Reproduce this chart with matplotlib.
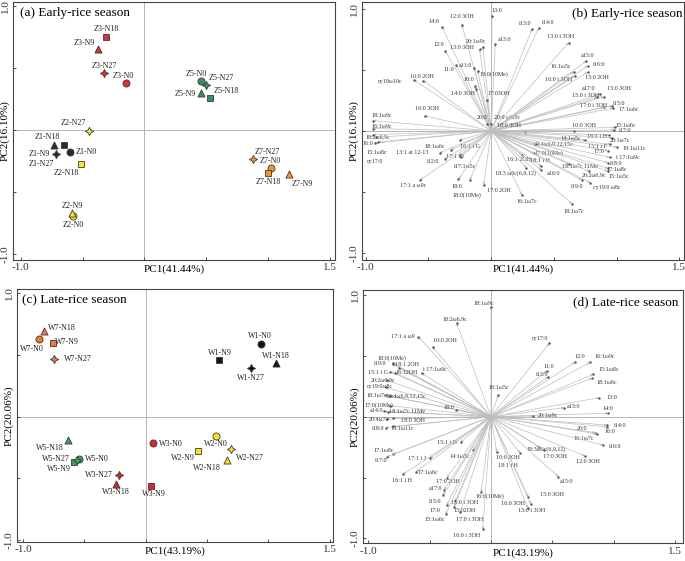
import matplotlib
matplotlib.use('Agg')
import matplotlib.pyplot as plt

plt.rcParams['font.family'] = ['Liberation Serif', 'DejaVu Serif']

# ---------------- (a) early-rice scores ----------------
a_names = ['Z1-N0', 'Z1-N9', 'Z1-N18', 'Z1-N27',
           'Z2-N0', 'Z2-N9', 'Z2-N18', 'Z2-N27',
           'Z3-N0', 'Z3-N9', 'Z3-N18', 'Z3-N27',
           'Z5-N0', 'Z5-N9', 'Z5-N18', 'Z5-N27',
           'Z7-N0', 'Z7-N9', 'Z7-N18', 'Z7-N27']
a_x = [-0.598, -0.733, -0.650, -0.712,
       -0.580, -0.588, -0.509, -0.450,
       -0.151, -0.377, -0.313, -0.323,
       0.458, 0.461, 0.531, 0.496,
       1.022, 1.170, 1.000, 0.876]
a_y = [-0.180, -0.118, -0.118, -0.196,
       -0.694, -0.672, -0.274, -0.005,
       0.379, 0.651, 0.753, 0.462,
       0.395, 0.296, 0.258, 0.363,
       -0.309, -0.355, -0.344, -0.234]
a_lx = [-0.469, -0.846, -0.782, -0.836,
        -0.577, -0.585, -0.631, -0.571,
        -0.167, -0.485, -0.307, -0.323,
        0.420, 0.334, 0.658, 0.620,
        1.019, 1.275, 1.005, 0.992]
a_ly = [-0.180, -0.196, -0.059, -0.272,
        -0.766, -0.610, -0.349, 0.054,
        0.435, 0.699, 0.812, 0.519,
        0.452, 0.288, 0.315, 0.417,
        -0.253, -0.435, -0.419, -0.177]

# ---------------- (c) late-rice scores ----------------
c_names = ['W1-N0', 'W1-N9', 'W1-N18', 'W1-N27',
           'W2-N0', 'W2-N9', 'W2-N18', 'W2-N27',
           'W3-N0', 'W3-N9', 'W3-N18', 'W3-N27',
           'W5-N0', 'W5-N9', 'W5-N18', 'W5-N27',
           'W7-N0', 'W7-N9', 'W7-N18', 'W7-N27']
c_x = [0.943, 0.601, 1.063, 0.856,
       0.571, 0.429, 0.666, 0.696,
       0.057, 0.043, -0.245, -0.217,
       -0.541, -0.584, -0.636, -0.563,
       -0.870, -0.758, -0.829, -0.745]
c_y = [0.586, 0.457, 0.435, 0.392,
       -0.159, -0.276, -0.349, -0.262,
       -0.216, -0.562, -0.543, -0.473,
       -0.346, -0.365, -0.189, -0.354,
       0.630, 0.595, 0.695, 0.468]
c_lx = [0.932, 0.606, 1.063, 0.856,
        0.573, 0.302, 0.497, 0.851,
        0.204, 0.071, -0.242, -0.378,
        -0.394, -0.704, -0.780, -0.731,
        -0.929, -0.644, -0.685, -0.549]
c_ly = [0.654, 0.514, 0.495, 0.311,
        -0.219, -0.338, -0.419, -0.332,
        -0.219, -0.630, -0.608, -0.473,
        -0.346, -0.427, -0.257, -0.346,
        0.549, 0.608, 0.716, 0.468]

# ---------------- (b) early-rice loadings ----------------
b_names = ['13:0', '12:0 3OH', '14:0', 'i13:0', 'i14:0', '13:0 i 3OH', '20:1ω9c', 'a13:0',
           '13:0 3OH', '12:0', '11:0', 'a11:0', '19:0(10Me)', '10:0 2OH', 'cy19ω10c', '10:0',
           '14:0 3OH', '17:03OH', '16:0 3OH', '18:1ω9c', '16:1ω9c', '20:0', '20:0 ω6,9c',
           '16:1ω5c', '16:0 i 3OH', 'a15:0', 'i16:0', '15:0 2OH', 'a17:0', '15:0 3OH',
           '15:0 i 3OH', '17:0 i 3OH', 'i15:0', '17:1ω6c', '18:0 3OH', '10:0 3OH', '15:1ω6c',
           'i17:0', '14:1ω5c', '16:1 i H', '20:1ω7c', '20:4ω6,9,12,15c', '15:1 i F', '19:1ω11c',
           '17:0', '17:0(10Me)', 'i 17:1ω9c', '16:1 2OH', '18:1 i H', '18:3 ω6c(6,9,12)', 'a16:0',
           '18:1ω7c 11Me', 'i18:0', '17:1ω8c', '20:2ω6,9c', '15:1ω5c', 'i19:0', 'cy19:0 ω8c',
           '16:1ω7c', '18:1ω7c', '18:2ω6,9c', '16:0', '15:1ω8c', 'cy17:0', '18:1ω6c',
           '16:1 i G', '13:1 at 12-13', '17:1 i J', 'i12:0', 'i17:1ω5c', '17:1 a ω9c', '18:0',
           '18:0(10Me)', '17:0 2OH']
b_x = [0.006, -0.234, -0.393, 0.325, 0.378, 0.617, -0.066, 0.032,
       -0.093, -0.367, -0.279, -0.136, -0.109, -0.540, -0.615, -0.133,
       -0.120, -0.034, -0.527, -0.940, -0.940, -0.030, 0.000,
       0.657, 0.665, 0.758, 0.769, 0.769, 0.870, 0.896,
       0.843, 0.896, 0.963, 0.971, 0.271, 0.657, 0.990,
       0.982, 0.750, 0.936, 0.963, 0.360, 0.950, 1.003,
       0.928, 0.338, 0.944, 0.245, 0.400, 0.280, 0.400,
       0.620, 0.930, 0.928, 0.780, 0.930, 0.720, 0.790,
       0.245, 0.644, -0.940, -0.930, -0.900, -0.920, -0.320,
       -0.250, -0.410, -0.250, -0.370, -0.240, -0.567, -0.261,
       -0.170, -0.061]
b_y = [0.943, 0.869, 0.855, 0.834, 0.842, 0.724, 0.691, 0.711,
       0.672, 0.658, 0.541, 0.514, 0.492, 0.412, 0.418, 0.369,
       0.344, 0.254, 0.123, 0.085, 0.020, 0.060, 0.060,
       0.486, 0.451, 0.574, 0.533, 0.481, 0.303, 0.281,
       0.276, 0.194, 0.205, 0.186, -0.005, 0.000, 0.030,
       0.008, -0.074, -0.033, -0.055, -0.110, -0.109, -0.134,
       -0.161, -0.183, -0.216, -0.197, -0.290, -0.300, -0.320,
       -0.270, -0.260, -0.306, -0.330, -0.330, -0.400, -0.424,
       -0.525, -0.598, -0.030, -0.100, -0.090, -0.050, -0.155,
       -0.074, -0.178, -0.200, -0.230, -0.210, -0.402, -0.396,
       -0.400, -0.443]
b_lx = [0.045, -0.234, -0.460, 0.271, 0.457, 0.551, -0.120, 0.104,
        -0.235, -0.421, -0.341, -0.208, 0.018, -0.553, -0.806, -0.181,
        -0.226, 0.058, -0.513, -0.872, -0.872, -0.074, 0.130,
        0.551, 0.537, 0.764, 0.857, 0.843, 0.777, 1.016,
        0.750, 0.817, 1.016, 1.096, 0.138, 0.737, 1.069,
        1.069, 0.630, 0.843, 1.030, 0.497, 0.843, 1.136,
        0.857, 0.457, 1.088, 0.218, 0.391, 0.192, 0.497,
        0.710, 0.998, 1.003, 0.817, 1.016, 0.684, 0.923,
        0.285, 0.657, -0.907, -0.985, -0.912, -0.926, -0.447,
        -0.168, -0.633, -0.287, -0.460, -0.208, -0.620, -0.274,
        -0.194, 0.064]
b_ly = [0.990, 0.937, 0.896, 0.883, 0.888, 0.773, 0.735, 0.752,
        0.683, 0.705, 0.500, 0.533, 0.467, 0.445, 0.404, 0.418,
        0.309, 0.309, 0.186, 0.131, 0.035, 0.112, 0.112,
        0.527, 0.418, 0.615, 0.547, 0.440, 0.350, 0.350,
        0.287, 0.205, 0.227, 0.178, 0.041, 0.041, 0.049,
        0.000, -0.060, -0.041, -0.074, -0.107, -0.123, -0.142,
        -0.170, -0.178, -0.219, -0.232, -0.238, -0.347, -0.347,
        -0.293, -0.265, -0.314, -0.361, -0.374, -0.451, -0.462,
        -0.580, -0.661, -0.045, -0.105, -0.180, -0.250, -0.128,
        -0.128, -0.178, -0.211, -0.252, -0.292, -0.443, -0.451,
        -0.525, -0.484]

# ---------------- (d) late-rice loadings ----------------
d_names = ['18:1ω9c', '18:2ω6,9c', '17:1 a ω9', '10:0 2OH', 'cy17:0', '18:0(10Me)', 'i19:0',
           '18:1 2OH', '15:1 i G', '16:12OH', 'i 17:1ω9c', '20:2ω6,9c', 'cy19:0ω8c', '18:1ω7c',
           '20:4ω6,9,12,15c', '17:0(10Me)', 'a14:0', '18:1ω7c 11Me', '18:0', '20:4ω7c',
           '18:0 3OH', 'i18:0', '19:1ω11c', '16:1ω5c', '12:0', '16:1ω9c', '11:0', 'i13:0',
           '15:1ω8c', '18:1ω6c', '13:0', 'a13:0', '14:0', '20:1ω9c', '20:0', 'i14:0', '16:0',
           '16:1ω7c', 'i16:0', '18:3ω6c(6,9,12)', '17:0 3OH', '12:0 3OH', '10:0 2OH',
           '18:1 i H', '15:1 i H', '14:1ω5c', '17:1ω8c', 'i17:0', '17:1 i J', '17:1ω6c',
           '16:1 i H', '17:0 2OH', 'a17:0', 'i15:0', '15:0 i 3OH', '16:0(10Me)', '17:0',
           '15:02OH', '15:1ω6c', '17:0 i 3OH', '16:0 i 3OH', 'a15:0', '15:0 3OH', '16:0 3OH',
           '13:0 i 3OH']
d_x = [0.000, -0.280, -0.592, -0.475, 0.475, -0.800, -0.800,
       -0.750, -0.820, -0.780, -0.565, -0.850, -0.860, -0.860,
       -0.820, -0.823, -0.870, -0.840, -0.285, -0.850,
       -0.800, -0.860, -0.800, 0.060, 0.685, 0.807, 0.454, 0.467,
       0.834, 0.820, 0.883, 0.595, 0.956, 0.340, 0.848, 0.943, 0.943,
       0.860, 0.915, 0.394, 0.430, 0.766, 0.046,
       0.236, -0.247, -0.144, -0.796, -0.850, -0.497, -0.611,
       -0.714, -0.360, -0.383, -0.389, -0.290, -0.080, -0.361,
       -0.300, -0.370, -0.250, -0.068, 0.549, 0.304, 0.324,
       0.300]
d_y = [0.900, 0.767, 0.657, 0.575, 0.603, 0.440, 0.430,
       0.400, 0.370, 0.360, 0.357, 0.300, 0.240, 0.175,
       0.170, 0.090, 0.045, 0.040, 0.055, -0.020,
       -0.010, -0.090, -0.080, 0.178, 0.447, 0.447, 0.376, 0.329,
       0.348, 0.315, 0.156, 0.074, 0.028, 0.006, -0.131, -0.068, -0.082,
       -0.140, -0.233, -0.251, -0.270, -0.323, -0.288,
       -0.296, -0.210, -0.274, -0.307, -0.330, -0.342, -0.452,
       -0.471, -0.500, -0.602, -0.643, -0.690, -0.620, -0.726,
       -0.740, -0.800, -0.780, -0.925, -0.493, -0.657, -0.717,
       -0.750]
d_lx = [-0.063, -0.293, -0.715, -0.375, 0.399, -0.810, -0.905,
        -0.687, -0.918, -0.687, -0.456, -0.878, -0.905, -0.932,
        -0.687, -0.918, -0.932, -0.687, -0.348, -0.918,
        -0.633, -0.918, -0.728, 0.060, 0.720, 0.929, 0.467, 0.413,
        0.956, 0.943, 0.984, 0.671, 0.956, 0.467, 0.744, 1.051, 0.970,
        0.752, 1.011, 0.448, 0.522, 0.793, 0.141,
        0.141, -0.361, -0.253, -0.878, -0.899, -0.606, -0.519,
        -0.728, -0.348, -0.456, -0.456, -0.212, -0.008, -0.456,
        -0.212, -0.456, -0.171, -0.198, 0.617, 0.495, 0.182,
        0.332]
d_ly = [0.932, 0.808, 0.657, 0.630, 0.644, 0.480, 0.439,
        0.430, 0.362, 0.362, 0.384, 0.302, 0.247, 0.178,
        0.170, 0.096, 0.049, 0.041, 0.077, -0.021,
        -0.033, -0.095, -0.095, 0.242, 0.493, 0.493, 0.411, 0.343,
        0.384, 0.283, 0.156, 0.082, 0.065, 0.006, -0.096, -0.076, -0.123,
        -0.178, -0.246, -0.268, -0.329, -0.370, -0.334,
        -0.397, -0.214, -0.329, -0.279, -0.362, -0.342, -0.460,
        -0.520, -0.534, -0.589, -0.698, -0.707, -0.652, -0.767,
        -0.772, -0.843, -0.843, -0.980, -0.534, -0.643, -0.717,
        -0.772]

a_colors = {'Z1': '#2b2b2b', 'Z2': '#f2e62e', 'Z3': '#dc2f2f', 'Z5': '#3f8c5e', 'Z7': '#f2952c'}
c_colors = {'W1': '#151515', 'W2': '#f4e424', 'W3': '#d8262b', 'W5': '#3aa258', 'W7': '#ec7a30'}
star = (4, 1, 0)
a_markers = {'N0': 'o', 'N9': '^', 'N18': 's', 'N27': star}
c_markers = {'N0': 'o', 'N9': 's', 'N18': '^', 'N27': star}
sizes = {'o': 26, 's': 24, '^': 26, star: 34}

W, H = 685, 561
fig = plt.figure(figsize=(W / 100, H / 100), dpi=100)


def make_ax(l, r, t, b, xlim, ylim):
    ax = fig.add_axes([l / W, 1 - b / H, (r - l) / W, (b - t) / H])
    ax.set_xlim(*xlim)
    ax.set_ylim(*ylim)
    ax.axhline(0, color='#b5b5b5', lw=0.7, zorder=0)
    ax.axvline(0, color='#b5b5b5', lw=0.7, zorder=0)
    ax.set_xticks([-1, -0.5, 0, 0.5, 1, 1.5])
    ax.set_xticklabels(['-1.0', '', '', '', '', '1.5'], fontsize=8)
    ax.set_yticks([-1, -0.5, 0, 0.5, 1])
    ax.set_yticklabels(['-1.0', '', '', '', '1.0'], fontsize=8, rotation=90, va='center')
    ax.tick_params(direction='in', length=2.5, width=0.6, pad=2.5, colors='#333333')
    for s in ax.spines.values():
        s.set_linewidth(0.8)
        s.set_color('#444444')
    return ax


def axis_labels(ax, xl, yl):
    ax.annotate(xl, xy=(0.5, 0), xycoords='axes fraction', xytext=(0, -3.5),
                textcoords='offset points', ha='center', va='top', fontsize=8)
    ax.annotate(yl, xy=(0, 0.5), xycoords='axes fraction', xytext=(-6, 0),
                textcoords='offset points', ha='center', va='center',
                rotation=90, fontsize=8)


def scores(ax, names, xs, ys, lxs, lys, colors, markers):
    for n, x, y, lx, ly in zip(names, xs, ys, lxs, lys):
        g, t = n.split('-')
        m = markers[t]
        ax.scatter(x, y, s=sizes[m], marker=m, c=colors[g], edgecolors='#3a3a3a',
                   linewidths=0.6, zorder=3)
        ax.text(lx, ly, n, fontsize=5.8, ha='center', va='center', color='#222222')


def loadings(ax, names, xs, ys, lxs, lys):
    for n, x, y, lx, ly in zip(names, xs, ys, lxs, lys):
        ax.annotate('', xy=(x, y), xytext=(0, 0),
                    arrowprops=dict(arrowstyle='-|>', color='#bdbdbd', lw=0.5,
                                    mutation_scale=3, shrinkA=0, shrinkB=0))
        ax.plot(x, y, marker='.', ms=1.5, color='#555555', zorder=3)
        ax.text(lx, ly, n, fontsize=4.3, ha='center', va='center', color='#333333')


ax_a = make_ax(13.3, 335, 1.7, 259.5, (-1.06, 1.541), (-1.044, 1.035))
scores(ax_a, a_names, a_x, a_y, a_lx, a_ly, a_colors, a_markers)
ax_a.text(0.02, 0.955, '(a) Early-rice season', transform=ax_a.transAxes,
          fontsize=9.5, ha='left', va='center')
axis_labels(ax_a, 'PC1(41.44%)', 'PC2(16.10%)')

ax_b = make_ax(362, 684, 2, 260, (-1.03, 1.537), (-1.057, 1.057))
loadings(ax_b, b_names, b_x, b_y, b_lx, b_ly)
ax_b.text(0.995, 0.955, '(b) Early-rice season', transform=ax_b.transAxes,
          fontsize=9.5, ha='right', va='center')
axis_labels(ax_b, 'PC1(41.44%)', 'PC2(16.10%)')

ax_c = make_ax(17.3, 333.3, 289, 541.7, (-1.046, 1.529), (-1.014, 1.036))
scores(ax_c, c_names, c_x, c_y, c_lx, c_ly, c_colors, c_markers)
ax_c.text(0.016, 0.955, '(c) Late-rice season', transform=ax_c.transAxes,
          fontsize=9.5, ha='left', va='center')
axis_labels(ax_c, 'PC1(43.19%)', 'PC2(20.06%)')

ax_d = make_ax(363.3, 683, 290, 543.3, (-1.041, 1.565), (-1.04, 1.041))
loadings(ax_d, d_names, d_x, d_y, d_lx, d_ly)
ax_d.text(0.985, 0.95, '(d) Late-rice season', transform=ax_d.transAxes,
          fontsize=9.5, ha='right', va='center')
axis_labels(ax_d, 'PC1(43.19%)', 'PC2(20.06%)')

fig.savefig('out.png', dpi=100)
